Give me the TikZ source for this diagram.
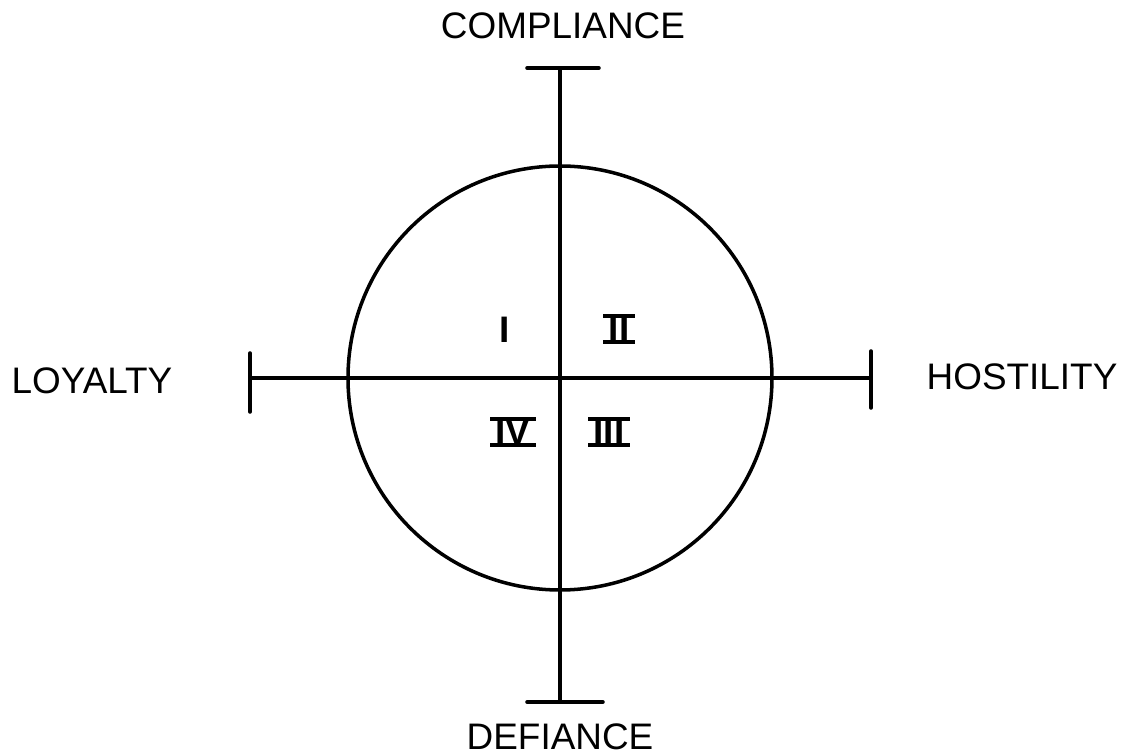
\documentclass[tikz,border=0pt]{standalone}
\usepackage{fontspec}
\setmainfont{Liberation Sans}
\usepackage{tikz}
\usetikzlibrary{positioning}

\tikzset{
  axisline/.style={line width=2pt,line cap=round},
  endbar/.style={line width=2pt,line cap=round},
  lbl/.style={inner sep=0pt,font=\fontsize{21}{24}\selectfont},
  numeral/.style={inner sep=0pt,font=\fontsize{21}{24}\selectfont\bfseries},
}

\begin{document}
\begin{tikzpicture}[x=1cm,y=1cm]
\useasboundingbox (-11.2,-7.54) rectangle (11.48,7.56);
% axis ends
\coordinate (top) at (0,6.2);
\coordinate (bottom) at (0,-6.48);
\coordinate (left) at (-6.2,0);
\coordinate (right) at (6.22,0);
% circle
\node[draw,circle,line width=2pt,minimum size=8.48cm,inner sep=0pt] (core) at (0,0) {};
\draw[axisline] (top) -- (bottom);
\draw[axisline] (left) -- (right);
\draw[endbar] ([xshift=-0.66cm]top) -- ([xshift=0.78cm]top);
\draw[endbar] ([xshift=-0.66cm]bottom) -- ([xshift=0.86cm]bottom);
\draw[endbar] ([yshift=0.5cm]left) -- ([yshift=-0.68cm]left);
\draw[endbar] ([yshift=0.54cm]right) -- ([yshift=-0.6cm]right);
% labels
\node[lbl] (compliance) at (0.06,7.04) {COMPLIANCE};
\node[lbl] (defiance) at (0,-7.18) {DEFIANCE};
\node[lbl] (loyalty) at (-9.36,-0.06) {LOYALTY};
\node[lbl] (hostility) at (9.24,0.02) {HOSTILITY};
% quadrants
\node[numeral] (one) at (-1.1,0.96) {I};
\node[numeral] (two) at (1.18,0.98) {II};
\node[numeral] (four) at (-0.94,-1.08) {IV};
\node[numeral] (three) at (0.98,-1.08) {III};
\foreach \q in {two,three,four} {
  \draw[line width=2.2pt] ([xshift=-0.1cm]\q.north west) -- ([xshift=0.1cm]\q.north east);
  \draw[line width=2.2pt] ([xshift=-0.1cm]\q.south west) -- ([xshift=0.1cm]\q.south east);
}
\end{tikzpicture}
\end{document}
